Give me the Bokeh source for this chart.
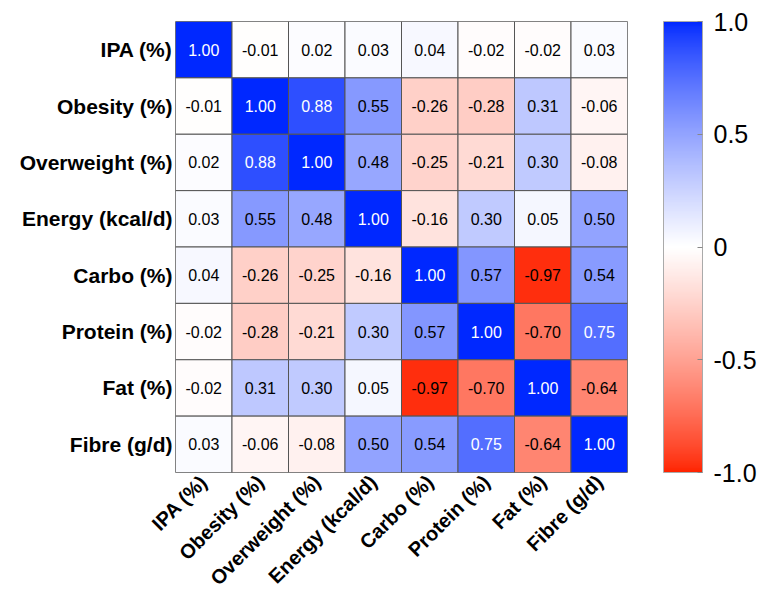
import math
from bokeh.plotting import figure
from bokeh.models import ColumnDataSource, LinearColorMapper, ColorBar, FixedTicker
from bokeh.transform import transform
from bokeh.core.properties import value
from bokeh.embed import file_html
from bokeh.resources import INLINE

variables = ["IPA (%)", "Obesity (%)", "Overweight (%)", "Energy (kcal/d)",
             "Carbo (%)", "Protein (%)", "Fat (%)", "Fibre (g/d)"]

row_ipa = [1.00, -0.01, 0.02, 0.03, 0.04, -0.02, -0.02, 0.03]
row_obesity = [-0.01, 1.00, 0.88, 0.55, -0.26, -0.28, 0.31, -0.06]
row_overweight = [0.02, 0.88, 1.00, 0.48, -0.25, -0.21, 0.30, -0.08]
row_energy = [0.03, 0.55, 0.48, 1.00, -0.16, 0.30, 0.05, 0.50]
row_carbo = [0.04, -0.26, -0.25, -0.16, 1.00, 0.57, -0.97, 0.54]
row_protein = [-0.02, -0.28, -0.21, 0.30, 0.57, 1.00, -0.70, 0.75]
row_fat = [-0.02, 0.31, 0.30, 0.05, -0.97, -0.70, 1.00, -0.64]
row_fibre = [0.03, -0.06, -0.08, 0.50, 0.54, 0.75, -0.64, 1.00]

rows = [row_ipa, row_obesity, row_overweight, row_energy,
        row_carbo, row_protein, row_fat, row_fibre]

colorbar_ticks = [-1.0, -0.5, 0.0, 0.5, 1.0]
colorbar_labels = ["-1.0", "-0.5", "0", "0.5", "1.0"]

# diverging palette red -> white -> blue
RED = (255, 35, 0)
BLUE = (0, 40, 255)
GAMMA = 0.8
N = 128


def blend(c, t):
    w = (1 - t) ** GAMMA
    return "#%02x%02x%02x" % tuple(int(round(ch + (255 - ch) * w)) for ch in c)


palette = [blend(RED, 1 - i / (N - 1)) for i in range(N)] + \
          [blend(BLUE, i / (N - 1)) for i in range(N)]

xs, ys, vals, labels, tcols = [], [], [], [], []
for rname, row in zip(variables, rows):
    for cname, v in zip(variables, row):
        xs.append(cname)
        ys.append(rname)
        vals.append(v)
        labels.append("%.2f" % v)
        tcols.append("white" if v >= 0.7 else "black")

src = ColumnDataSource(dict(x=xs, y=ys, v=vals, label=labels, tc=tcols))
mapper = LinearColorMapper(palette=palette, low=-1.0, high=1.0)

p = figure(x_range=variables, y_range=list(reversed(variables)),
           width=750, height=585, output_backend="svg", toolbar_location=None,
           min_border_left=175, min_border_top=21, min_border_bottom=10,
           min_border_right=10)
p.frame_width = 452
p.frame_height = 451

p.rect(x="x", y="y", width=1, height=1, source=src,
       fill_color=transform("v", mapper), line_color="#555555", line_width=1)
p.text(x="x", y="y", text="label", source=src, text_align="center",
       text_baseline="middle", text_color="tc", text_font_size="16px",
       text_font=value("Liberation Sans"))

p.grid.visible = False
p.outline_line_color = "#999999"
for ax in (p.xaxis[0], p.yaxis[0]):
    ax.axis_line_color = None
    ax.major_tick_line_color = None
    ax.minor_tick_line_color = None
    ax.major_tick_out = 0
    ax.major_tick_in = 0
    ax.major_label_text_font = "Liberation Sans"
    ax.major_label_text_font_style = "bold"
    ax.major_label_text_font_size = "21px"
    ax.major_label_text_color = "black"
    ax.major_label_standoff = 3
p.xaxis.major_label_text_font_size = "20px"
p.xaxis.major_label_standoff = 6
p.xaxis.major_label_orientation = math.pi / 4

cb = ColorBar(color_mapper=mapper, width=39, height=451, padding=0, margin=0,
              location=(36, 0),
              ticker=FixedTicker(ticks=colorbar_ticks),
              major_label_overrides={t: l for t, l in zip(colorbar_ticks, colorbar_labels)},
              major_label_text_font="Liberation Sans",
              major_label_text_font_size="25px",
              major_label_text_color="black",
              label_standoff=11,
              major_tick_line_color="#888888", major_tick_in=5, major_tick_out=0,
              minor_tick_line_color=None,
              bar_line_color="#aaaaaa", border_line_color=None,
              background_fill_color=None)
p.add_layout(cb, "right")

open("out.html", "w").write(file_html(p, INLINE))
